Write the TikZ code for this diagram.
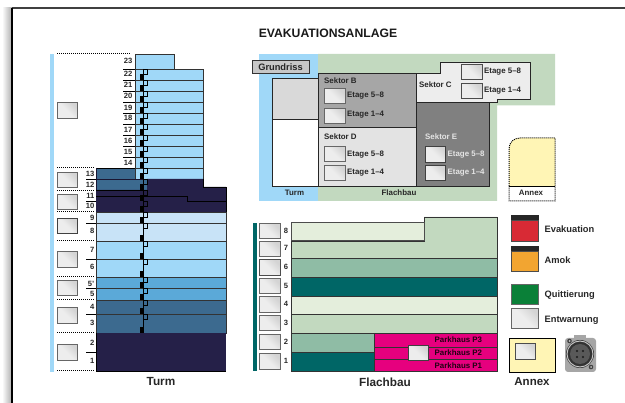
\documentclass[tikz,border=0pt]{standalone}
\usepackage{fontspec}
\setmainfont{Liberation Sans}
\definecolor{lblue}{HTML}{A0D8F8}
\definecolor{pblue}{HTML}{C8E3F7}
\definecolor{mblue}{HTML}{5BA9D8}
\definecolor{sblue}{HTML}{3C6A8F}
\definecolor{navy}{HTML}{252048}
\definecolor{lgreen}{HTML}{E4EEDC}
\definecolor{sgreen}{HTML}{C2D9BF}
\definecolor{mgreen}{HTML}{8FBCA5}
\definecolor{teal2}{HTML}{006666}
\definecolor{pink2}{HTML}{E6007E}
\definecolor{yell}{HTML}{FFF5B5}
\tikzset{
  x=1pt,y=-1pt,
  lab/.style={font=\bfseries\fontsize{7.9}{9}\selectfont,inner sep=0pt,text=black!85},
  sector/.style={lab,anchor=west},
  etage/.style={lab,anchor=west},
  legendlab/.style={anchor=west,inner sep=0pt,text=black!85,font=\bfseries\fontsize{9.3}{11}\selectfont},
  num/.style={lab,font=\bfseries\fontsize{7.6}{9}\selectfont,anchor=east},
  big/.style={inner sep=0pt,font=\bfseries\fontsize{11.8}{14}\selectfont,text=black!85},
  floorbox/.style={draw=black!80,line width=0.8pt},
  dashrow/.style={densely dotted,line width=1pt,black},
  tick/.style={line width=0.8pt,black},
}
\newcommand{\btn}[5][black!60]{%
  \shade[left color=black!17,right color=black!7,shading angle=-45,middle color=black!7] (#2,#3) rectangle (#4,#5);
  \draw[#1,line width=1pt] (#2,#3) rectangle (#4,#5);}
\begin{document}
\begin{tikzpicture}
\useasboundingbox (0,0) rectangle (625,403);
% page shadow and frame
\shade[left color=white,right color=black!32] (2,8) rectangle (12,403);
\draw[black!75,line width=2pt] (12,8) -- (625,8);
\draw[black,line width=1.4pt] (12,8) -- (12,403);
\node[inner sep=0pt,text=black!90,font=\bfseries\fontsize{12.2}{14}\selectfont] (title) at (328,33.5) {EVAKUATIONSANLAGE};
% ---------- Turm
\fill[lblue] (50,54) rectangle (54,372);
\draw[dashrow] (57,54) -- (131,54);
\foreach \yy in {168,190.5,212,241,277,300,333,371} \draw[dashrow] (57,\yy) -- (95,\yy);
\draw[floorbox,fill=lblue] (135,54) -- (174,54) -- (174,69) -- (135,69) -- cycle;
\foreach \a/\b in {69/80,80/91,91/102,102/113,113/124,124/135,135/146,146/157,157/168,168/179}
  \draw[floorbox,fill=lblue] (135,\a) rectangle (203,\b);
\fill[sblue] (96,168) rectangle (135,179);
\fill[sblue] (96,179) rectangle (147,190);
\fill[navy] (147,179) -- (203,179) -- (203,187) -- (226,187) -- (226,212) -- (96,212) -- (96,190) -- (147,190) -- cycle;
\draw[black,line width=0.8pt] (96,168) -- (135,168);
\draw[navy!70!black,line width=0.8pt] (96,168) -- (96,190) (96,179) -- (147,179);
\draw[black,line width=0.8pt] (203,179) -- (203,187) -- (226,187) -- (226,212);
\draw[black,line width=0.7pt] (96,196.5) -- (187,196.5) -- (187,201) -- (226,201);
\draw[black,line width=0.7pt] (96,190) -- (147,190);
\foreach \a/\b/\c in {212/223/pblue,223/241/pblue,241/259/lblue,259/277/lblue,277/288/mblue,288/300/mblue,300/314/sblue,314/333/sblue}
  \draw[floorbox,fill=\c] (96,\a) rectangle (226,\b);
\fill[navy] (96,333) rectangle (226,371);
\draw[black,line width=0.8pt] (96,333) -- (96,371) -- (226,371);
% elevator shaft
\foreach \a/\b in {69/80,80/91,91/102,102/113,113/124,124/135,135/146,146/157,157/168,168/179,179/190,190/201,201/212,212/223,223/241,241/259,259/277,277/288,288/300,300/314,314/333}{
  \fill[black] (139.5,\b) rectangle (143.5,\b-6);
  \draw[black,line width=0.7pt] (143.5,\a+0.3) -- (147.7,\a+0.3) -- (147.7,\a+5) -- (143.5,\a+5);
}
\draw[black,line width=0.8pt] (143.5,69) -- (143.5,333);
% tower numbers
\foreach \t/\yy in {23/61,22/74,21/85,20/96,19/108,18/118,17/130,16/141,15/152,14/163}
  \node[num] at (132.5,\yy) {\t};
\foreach \yy in {69,80,91,102,113,124,135,146,157,168} \draw[tick] (123,\yy) -- (135,\yy);
\foreach \t/\yy in {13/174,12/185,11/196,10/206,9/218,8/231,7/250,6/267,5'/284,5/294,4/307,3/323,2/343,1/361}
  \node[num] at (94.5,\yy) {\t};
\foreach \yy in {179,201,223,259,288,314,352} \draw[tick] (86,\yy) -- (96,\yy);
\btn{57}{103}{77.5}{119}
\btn{57}{172.5}{77.5}{188}
\btn{57}{194.5}{77.5}{210}
\btn[black!75]{57}{219}{77.5}{234}
\btn{57}{252}{77.5}{267.5}
\btn{57}{280.5}{77.5}{296}
\btn{57}{308}{77.5}{323.5}
\btn{57}{345}{77.5}{361}
\node[big] (turm) at (161,382) {Turm};
% ---------- Grundriss
\fill[lblue] (259,54) rectangle (318,201);
\fill[sgreen] (318,54) -- (555,54) -- (555,105.5) -- (497,105.5) -- (497,201) -- (318,201) -- cycle;
\draw[black!85,line width=0.8pt,fill=white] (272,78) rectangle (318,186);
\draw[black!85,line width=0.8pt,fill=black!15] (272,78) rectangle (318,119.5);
\draw[black!85,line width=0.8pt,fill=black!35] (318,73) rectangle (416,127.5);
\draw[black!85,line width=0.8pt,fill=black!11] (318,127.5) rectangle (416,186);
\draw[black!85,line width=0.8pt,fill=black!7] (416,73) -- (440,73) -- (440,62) -- (530,62) -- (530,99) -- (497,99) -- (497,102.5) -- (416,102.5) -- cycle;
\draw[black!85,line width=0.8pt,fill=black!50] (416,102.5) rectangle (489,186);
\node[draw=black!80,fill=black!22,line width=0.8pt,minimum width=57pt,minimum height=13pt,inner sep=0pt,font=\bfseries\fontsize{9.3}{11}\selectfont,text=black!85] (grundriss) at (280.5,66.8) {Grundriss};
\node[sector] at (324,81) {Sektor B};
\btn{324}{89}{345}{104}
\btn{324}{108.5}{345}{123.5}
\node[etage] at (347,96) {Etage 5–8};
\node[etage] at (347,115) {Etage 1–4};
\node[sector] at (324,137) {Sektor D};
\btn{324}{146.5}{345}{162}
\btn{324}{165.5}{345}{180.5}
\node[etage] at (347,154.5) {Etage 5–8};
\node[etage] at (347,172.5) {Etage 1–4};
\node[sector] at (419,84.5) {Sektor C};
\btn[black!70]{461}{64.5}{482}{80}
\btn[black!70]{461}{84}{482}{99}
\node[etage] at (484,72) {Etage 5–8};
\node[etage] at (484,91) {Etage 1–4};
\node[sector,text=black!10] at (425,137) {Sektor E};
\btn[black!75]{425}{146.5}{445.5}{162.5}
\btn[black!75]{425}{166}{445.5}{181}
\node[etage,text=black!10] at (447.5,154.5) {Etage 5–8};
\node[etage,text=black!10] at (447.5,172.5) {Etage 1–4};
\node[lab] at (294.5,193) {Turm};
\node[lab] at (399,193) {Flachbau};
% annex plan
\fill[yell] (509,186) -- (509,149) .. controls (509,142.5) and (513.5,138) .. (520,138) -- (555,138) -- (555,186) -- cycle;
\draw[black,line width=0.8pt] (509,186) -- (555,186);
\draw[dashrow] (509,186) -- (509,149) .. controls (509,142.5) and (513.5,138) .. (520,138) -- (555,138) -- (555,201) -- (509,201) -- (509,186);
\node[lab] at (531,193) {Annex};
% ---------- Flachbau
\fill[teal2] (253,223) rectangle (257,371.5);
\draw[floorbox,fill=sgreen] (424,217) -- (497,217) -- (497,258) -- (291,258) -- (291,241) -- (424,241) -- cycle;
\draw[black!70,line width=1pt,fill=lgreen] (291,223) -- (424,223) -- (424,241) -- (291,241) -- cycle;
\foreach \a/\b/\c in {258/277/mgreen,277/296/teal2,296/314/lgreen,314/333/sgreen}
  \draw[floorbox,fill=\c] (291,\a) rectangle (497,\b);
\draw[floorbox,fill=mgreen] (291,333) rectangle (374,352);
\draw[floorbox,fill=teal2] (291,352) rectangle (374,371.5);
\draw[floorbox,fill=pink2] (374,333) rectangle (497,347);
\draw[floorbox,fill=pink2] (374,347) rectangle (497,359.5);
\draw[floorbox,fill=pink2] (374,359.5) rectangle (497,371.5);
\foreach \t/\yy in {8/231,7/248,6/267,5/286,4/304,3/323,2/342,1/361}
  \node[num,anchor=center] at (286,\yy) {\t};
\btn{259}{224}{280}{239}
\btn{259}{242}{280}{257}
\btn[black!70]{259}{260}{280}{276}
\btn{259}{279}{280}{294}
\btn{259}{297}{280}{313}
\btn{259}{316}{280}{331}
\btn{259}{335}{280}{350}
\btn{259}{354}{280}{370}
\node[lab,anchor=west,text=black!85!pink2] at (434.5,340) {Parkhaus P3};
\node[lab,anchor=west,text=black!85!pink2] at (434.5,353) {Parkhaus P2};
\node[lab,anchor=west,text=black!85!pink2] at (434.5,365.5) {Parkhaus P1};
\btn[black!75]{408}{345.5}{428.5}{361}
\node[big] (flachbau) at (385,382) {Flachbau};
% ---------- Legend
\fill[black!85] (511,215) rectangle (538.5,220);
\draw[black!70,line width=0.8pt,fill={rgb,255:red,216;green,42;blue,53}] (511,220) rectangle (538.5,241);
\fill[black!85] (511,246) rectangle (538.5,251);
\draw[black!70,line width=0.8pt,fill={rgb,255:red,242;green,165;blue,49}] (511,251) rectangle (538.5,271);
\draw[black!60,line width=1pt,fill={rgb,255:red,10;green,128;blue,56}] (511,284.5) rectangle (538.5,305);
\btn{511}{308.5}{538.5}{329}
\node[legendlab] at (544.5,229) {Evakuation};
\node[legendlab] at (544.5,260) {Amok};
\node[legendlab] at (544.5,295) {Quittierung};
\node[legendlab] at (544.5,320.5) {Entwarnung};
\draw[black,line width=0.8pt,fill=yell] (509,338.5) rectangle (555,372);
\btn[black!70]{515}{344}{535.5}{360}
\node[big,font=\bfseries\fontsize{11.5}{14}\selectfont] (annex) at (532,382) {Annex};
% connector
\fill[black!35,rounded corners=3pt] (565,338) rectangle (596,372);
\fill[black!35] (574,335) rectangle (586,340);
\fill[black!80] (580,354) circle (14pt);
\draw[black!20,line width=0.9pt] (580,354) circle (13pt);
\fill[black!65] (580,354) circle (10pt);
\foreach \dx/\dy in {-3/-3,3/-3,-3/3,3/3} \fill[black!90] (580+\dx,354+\dy) circle (1.2pt);
\foreach \cx/\cy in {569.5/341,591/367} {\fill[black!75] (\cx,\cy) circle (2.3pt); \fill[black!25] (\cx,\cy) circle (1pt);}
\end{tikzpicture}
\end{document}
